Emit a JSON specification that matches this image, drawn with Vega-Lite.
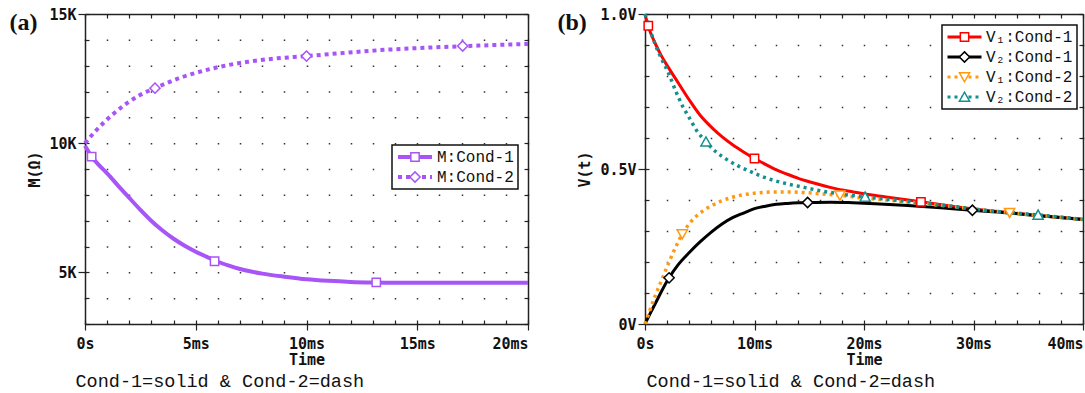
{
  "$schema": "https://vega.github.io/schema/vega-lite/v6.json",
  "padding": {"left": 9, "top": 7, "right": 2, "bottom": 1},
  "background": "white",
  "spacing": 21,
  "config": {
    "font": "DejaVu Sans Mono",
    "view": {"stroke": null},
    "axis": {
      "domainColor": "#222", "domainWidth": 1.5, "tickColor": "#222", "tickWidth": 1.2,
      "labelColor": "#111", "titleColor": "#111",
      "labelFont": "DejaVu Sans Mono", "labelFontWeight": "bold", "labelFontSize": 15,
      "titleFont": "DejaVu Sans Mono", "titleFontWeight": "bold", "titleFontSize": 15,
      "grid": false, "labelFlush": false, "labelOverlap": false
    }
  },
  "resolve": {"scale": {"color": "independent", "stroke": "independent", "shape": "independent"}},
  "datasets": {
    "aL": [
      {"s": "M:Cond-1", "c": 1, "t": 0, "v": 9.9}, {"s": "M:Cond-1", "c": 1, "t": 0.3, "v": 9.48}, {"s": "M:Cond-1", "c": 1, "t": 0.6, "v": 9.18}, {"s": "M:Cond-1", "c": 1, "t": 1, "v": 8.83}, {"s": "M:Cond-1", "c": 1, "t": 1.5, "v": 8.35}, {"s": "M:Cond-1", "c": 1, "t": 2, "v": 7.88}, {"s": "M:Cond-1", "c": 1, "t": 2.5, "v": 7.42}, {"s": "M:Cond-1", "c": 1, "t": 3, "v": 6.99}, {"s": "M:Cond-1", "c": 1, "t": 3.5, "v": 6.62}, {"s": "M:Cond-1", "c": 1, "t": 4, "v": 6.3}, {"s": "M:Cond-1", "c": 1, "t": 4.5, "v": 6.03}, {"s": "M:Cond-1", "c": 1, "t": 5, "v": 5.8}, {"s": "M:Cond-1", "c": 1, "t": 5.5, "v": 5.6}, {"s": "M:Cond-1", "c": 1, "t": 6, "v": 5.41}, {"s": "M:Cond-1", "c": 1, "t": 6.5, "v": 5.26}, {"s": "M:Cond-1", "c": 1, "t": 7, "v": 5.13}, {"s": "M:Cond-1", "c": 1, "t": 7.5, "v": 5.03}, {"s": "M:Cond-1", "c": 1, "t": 8, "v": 4.95}, {"s": "M:Cond-1", "c": 1, "t": 9, "v": 4.83}, {"s": "M:Cond-1", "c": 1, "t": 10, "v": 4.73}, {"s": "M:Cond-1", "c": 1, "t": 11, "v": 4.67}, {"s": "M:Cond-1", "c": 1, "t": 12, "v": 4.63}, {"s": "M:Cond-1", "c": 1, "t": 13, "v": 4.61}, {"s": "M:Cond-1", "c": 1, "t": 14, "v": 4.6}, {"s": "M:Cond-1", "c": 1, "t": 17, "v": 4.6}, {"s": "M:Cond-1", "c": 1, "t": 20, "v": 4.6},
      {"s": "M:Cond-2", "c": 2, "t": 0, "v": 10.0}, {"s": "M:Cond-2", "c": 2, "t": 0.4, "v": 10.4}, {"s": "M:Cond-2", "c": 2, "t": 0.83, "v": 10.78}, {"s": "M:Cond-2", "c": 2, "t": 1.3, "v": 11.15}, {"s": "M:Cond-2", "c": 2, "t": 1.9, "v": 11.55}, {"s": "M:Cond-2", "c": 2, "t": 2.5, "v": 11.87}, {"s": "M:Cond-2", "c": 2, "t": 3.16, "v": 12.13}, {"s": "M:Cond-2", "c": 2, "t": 3.7, "v": 12.33}, {"s": "M:Cond-2", "c": 2, "t": 4.25, "v": 12.52}, {"s": "M:Cond-2", "c": 2, "t": 5, "v": 12.72}, {"s": "M:Cond-2", "c": 2, "t": 5.8, "v": 12.9}, {"s": "M:Cond-2", "c": 2, "t": 6.5, "v": 13.03}, {"s": "M:Cond-2", "c": 2, "t": 7.36, "v": 13.15}, {"s": "M:Cond-2", "c": 2, "t": 8.5, "v": 13.27}, {"s": "M:Cond-2", "c": 2, "t": 10, "v": 13.37}, {"s": "M:Cond-2", "c": 2, "t": 11.5, "v": 13.48}, {"s": "M:Cond-2", "c": 2, "t": 13.3, "v": 13.6}, {"s": "M:Cond-2", "c": 2, "t": 15, "v": 13.68}, {"s": "M:Cond-2", "c": 2, "t": 17, "v": 13.75}, {"s": "M:Cond-2", "c": 2, "t": 18.5, "v": 13.8}, {"s": "M:Cond-2", "c": 2, "t": 20, "v": 13.84}
    ],
    "aP": [
      {"s": "M:Cond-1", "t": 0.3, "v": 9.48}, {"s": "M:Cond-1", "t": 5.85, "v": 5.43}, {"s": "M:Cond-1", "t": 13.15, "v": 4.61},
      {"s": "M:Cond-2", "t": 3.16, "v": 12.13}, {"s": "M:Cond-2", "t": 10.0, "v": 13.37}, {"s": "M:Cond-2", "t": 17.05, "v": 13.76}
    ],
    "bL": [
      {"s": "V₁:Cond-1", "c": 1, "t": 0, "v": 1.0}, {"s": "V₁:Cond-1", "c": 1, "t": 0.3, "v": 0.96}, {"s": "V₁:Cond-1", "c": 1, "t": 1, "v": 0.9}, {"s": "V₁:Cond-1", "c": 1, "t": 1.5, "v": 0.865}, {"s": "V₁:Cond-1", "c": 1, "t": 2, "v": 0.835}, {"s": "V₁:Cond-1", "c": 1, "t": 3, "v": 0.78}, {"s": "V₁:Cond-1", "c": 1, "t": 4, "v": 0.725}, {"s": "V₁:Cond-1", "c": 1, "t": 5, "v": 0.675}, {"s": "V₁:Cond-1", "c": 1, "t": 6.3, "v": 0.627}, {"s": "V₁:Cond-1", "c": 1, "t": 7, "v": 0.605}, {"s": "V₁:Cond-1", "c": 1, "t": 8, "v": 0.578}, {"s": "V₁:Cond-1", "c": 1, "t": 9, "v": 0.555}, {"s": "V₁:Cond-1", "c": 1, "t": 10, "v": 0.534}, {"s": "V₁:Cond-1", "c": 1, "t": 11, "v": 0.515}, {"s": "V₁:Cond-1", "c": 1, "t": 12, "v": 0.497}, {"s": "V₁:Cond-1", "c": 1, "t": 13, "v": 0.483}, {"s": "V₁:Cond-1", "c": 1, "t": 14, "v": 0.47}, {"s": "V₁:Cond-1", "c": 1, "t": 15, "v": 0.459}, {"s": "V₁:Cond-1", "c": 1, "t": 16, "v": 0.449}, {"s": "V₁:Cond-1", "c": 1, "t": 17, "v": 0.44}, {"s": "V₁:Cond-1", "c": 1, "t": 18, "v": 0.432}, {"s": "V₁:Cond-1", "c": 1, "t": 19, "v": 0.426}, {"s": "V₁:Cond-1", "c": 1, "t": 20, "v": 0.42}, {"s": "V₁:Cond-1", "c": 1, "t": 22, "v": 0.41}, {"s": "V₁:Cond-1", "c": 1, "t": 25.2, "v": 0.394}, {"s": "V₁:Cond-1", "c": 1, "t": 28, "v": 0.38}, {"s": "V₁:Cond-1", "c": 1, "t": 30, "v": 0.371}, {"s": "V₁:Cond-1", "c": 1, "t": 33, "v": 0.36}, {"s": "V₁:Cond-1", "c": 1, "t": 36, "v": 0.35}, {"s": "V₁:Cond-1", "c": 1, "t": 40, "v": 0.338},
      {"s": "V₂:Cond-1", "c": 1, "t": 0, "v": 0}, {"s": "V₂:Cond-1", "c": 1, "t": 0.5, "v": 0.036}, {"s": "V₂:Cond-1", "c": 1, "t": 1, "v": 0.07}, {"s": "V₂:Cond-1", "c": 1, "t": 1.5, "v": 0.105}, {"s": "V₂:Cond-1", "c": 1, "t": 2.2, "v": 0.149}, {"s": "V₂:Cond-1", "c": 1, "t": 3, "v": 0.19}, {"s": "V₂:Cond-1", "c": 1, "t": 4, "v": 0.229}, {"s": "V₂:Cond-1", "c": 1, "t": 5, "v": 0.264}, {"s": "V₂:Cond-1", "c": 1, "t": 6, "v": 0.295}, {"s": "V₂:Cond-1", "c": 1, "t": 7, "v": 0.322}, {"s": "V₂:Cond-1", "c": 1, "t": 8, "v": 0.343}, {"s": "V₂:Cond-1", "c": 1, "t": 9, "v": 0.358}, {"s": "V₂:Cond-1", "c": 1, "t": 10, "v": 0.372}, {"s": "V₂:Cond-1", "c": 1, "t": 11, "v": 0.38}, {"s": "V₂:Cond-1", "c": 1, "t": 12, "v": 0.386}, {"s": "V₂:Cond-1", "c": 1, "t": 13, "v": 0.389}, {"s": "V₂:Cond-1", "c": 1, "t": 14, "v": 0.391}, {"s": "V₂:Cond-1", "c": 1, "t": 15, "v": 0.392}, {"s": "V₂:Cond-1", "c": 1, "t": 17, "v": 0.393}, {"s": "V₂:Cond-1", "c": 1, "t": 19, "v": 0.391}, {"s": "V₂:Cond-1", "c": 1, "t": 21, "v": 0.388}, {"s": "V₂:Cond-1", "c": 1, "t": 24, "v": 0.382}, {"s": "V₂:Cond-1", "c": 1, "t": 27, "v": 0.375}, {"s": "V₂:Cond-1", "c": 1, "t": 29.9, "v": 0.367}, {"s": "V₂:Cond-1", "c": 1, "t": 33, "v": 0.359}, {"s": "V₂:Cond-1", "c": 1, "t": 36, "v": 0.349}, {"s": "V₂:Cond-1", "c": 1, "t": 40, "v": 0.337},
      {"s": "V₁:Cond-2", "c": 2, "t": 0, "v": 0}, {"s": "V₁:Cond-2", "c": 2, "t": 0.45, "v": 0.045}, {"s": "V₁:Cond-2", "c": 2, "t": 0.9, "v": 0.088}, {"s": "V₁:Cond-2", "c": 2, "t": 1.5, "v": 0.14}, {"s": "V₁:Cond-2", "c": 2, "t": 2.15, "v": 0.196}, {"s": "V₁:Cond-2", "c": 2, "t": 2.8, "v": 0.248}, {"s": "V₁:Cond-2", "c": 2, "t": 3.4, "v": 0.29}, {"s": "V₁:Cond-2", "c": 2, "t": 4.2, "v": 0.33}, {"s": "V₁:Cond-2", "c": 2, "t": 5, "v": 0.357}, {"s": "V₁:Cond-2", "c": 2, "t": 6, "v": 0.38}, {"s": "V₁:Cond-2", "c": 2, "t": 7, "v": 0.397}, {"s": "V₁:Cond-2", "c": 2, "t": 8, "v": 0.409}, {"s": "V₁:Cond-2", "c": 2, "t": 9, "v": 0.417}, {"s": "V₁:Cond-2", "c": 2, "t": 10, "v": 0.422}, {"s": "V₁:Cond-2", "c": 2, "t": 11, "v": 0.425}, {"s": "V₁:Cond-2", "c": 2, "t": 12, "v": 0.426}, {"s": "V₁:Cond-2", "c": 2, "t": 13, "v": 0.426}, {"s": "V₁:Cond-2", "c": 2, "t": 14, "v": 0.425}, {"s": "V₁:Cond-2", "c": 2, "t": 15, "v": 0.423}, {"s": "V₁:Cond-2", "c": 2, "t": 16, "v": 0.42}, {"s": "V₁:Cond-2", "c": 2, "t": 17.8, "v": 0.415}, {"s": "V₁:Cond-2", "c": 2, "t": 20, "v": 0.406}, {"s": "V₁:Cond-2", "c": 2, "t": 22, "v": 0.4}, {"s": "V₁:Cond-2", "c": 2, "t": 25, "v": 0.39}, {"s": "V₁:Cond-2", "c": 2, "t": 28, "v": 0.379}, {"s": "V₁:Cond-2", "c": 2, "t": 30, "v": 0.371}, {"s": "V₁:Cond-2", "c": 2, "t": 33.3, "v": 0.359}, {"s": "V₁:Cond-2", "c": 2, "t": 36, "v": 0.35}, {"s": "V₁:Cond-2", "c": 2, "t": 40, "v": 0.337},
      {"s": "V₂:Cond-2", "c": 2, "t": 0, "v": 1.0}, {"s": "V₂:Cond-2", "c": 2, "t": 0.45, "v": 0.95}, {"s": "V₂:Cond-2", "c": 2, "t": 0.9, "v": 0.905}, {"s": "V₂:Cond-2", "c": 2, "t": 1.5, "v": 0.856}, {"s": "V₂:Cond-2", "c": 2, "t": 2.15, "v": 0.809}, {"s": "V₂:Cond-2", "c": 2, "t": 2.8, "v": 0.752}, {"s": "V₂:Cond-2", "c": 2, "t": 3.4, "v": 0.705}, {"s": "V₂:Cond-2", "c": 2, "t": 4, "v": 0.668}, {"s": "V₂:Cond-2", "c": 2, "t": 4.7, "v": 0.625}, {"s": "V₂:Cond-2", "c": 2, "t": 5.57, "v": 0.588}, {"s": "V₂:Cond-2", "c": 2, "t": 6.5, "v": 0.555}, {"s": "V₂:Cond-2", "c": 2, "t": 7.5, "v": 0.53}, {"s": "V₂:Cond-2", "c": 2, "t": 8.5, "v": 0.51}, {"s": "V₂:Cond-2", "c": 2, "t": 10, "v": 0.486}, {"s": "V₂:Cond-2", "c": 2, "t": 11, "v": 0.472}, {"s": "V₂:Cond-2", "c": 2, "t": 12, "v": 0.461}, {"s": "V₂:Cond-2", "c": 2, "t": 13, "v": 0.452}, {"s": "V₂:Cond-2", "c": 2, "t": 14.2, "v": 0.443}, {"s": "V₂:Cond-2", "c": 2, "t": 16, "v": 0.43}, {"s": "V₂:Cond-2", "c": 2, "t": 17.7, "v": 0.42}, {"s": "V₂:Cond-2", "c": 2, "t": 20.1, "v": 0.41}, {"s": "V₂:Cond-2", "c": 2, "t": 22, "v": 0.403}, {"s": "V₂:Cond-2", "c": 2, "t": 25, "v": 0.391}, {"s": "V₂:Cond-2", "c": 2, "t": 28, "v": 0.38}, {"s": "V₂:Cond-2", "c": 2, "t": 30, "v": 0.371}, {"s": "V₂:Cond-2", "c": 2, "t": 33, "v": 0.36}, {"s": "V₂:Cond-2", "c": 2, "t": 35.9, "v": 0.352}, {"s": "V₂:Cond-2", "c": 2, "t": 40, "v": 0.337}
    ],
    "bP": [
      {"s": "V₁:Cond-1", "t": 0.3, "v": 0.962}, {"s": "V₁:Cond-1", "t": 10.0, "v": 0.534}, {"s": "V₁:Cond-1", "t": 25.2, "v": 0.394},
      {"s": "V₂:Cond-1", "t": 2.2, "v": 0.149}, {"s": "V₂:Cond-1", "t": 14.85, "v": 0.392}, {"s": "V₂:Cond-1", "t": 29.9, "v": 0.367},
      {"s": "V₁:Cond-2", "t": 3.4, "v": 0.29}, {"s": "V₁:Cond-2", "t": 17.8, "v": 0.415}, {"s": "V₁:Cond-2", "t": 33.3, "v": 0.359},
      {"s": "V₂:Cond-2", "t": 5.57, "v": 0.588}, {"s": "V₂:Cond-2", "t": 20.1, "v": 0.41}, {"s": "V₂:Cond-2", "t": 35.9, "v": 0.352}
    ]
  },
  "hconcat": [
    {
      "width": 443,
      "height": 310,
      "resolve": {"axis": {"x": "independent", "y": "independent"}},
      "layer": [
        {
          "data": {"name": "aL"},
          "transform": [{"filter": "datum.c == 1"}],
          "mark": {"type": "line", "strokeWidth": 4, "interpolate": "monotone"},
          "encoding": {
            "x": {"field": "t", "type": "quantitative", "scale": {"domain": [0, 20], "nice": false, "zero": false},
              "axis": {"orient": "bottom", "values": [0, 5, 10, 15, 20], "tickSize": 6, "labelPadding": 6,
                "labelExpr": "datum.value == 0 ? '0s' : datum.value + 'ms'",
                "labelAlign": {"condition": {"test": "datum.value == 20", "value": "right"}, "value": "center"},
                "title": "Time", "titleY": 35, "titleBaseline": "middle", "domain": true}},
            "y": {"field": "v", "type": "quantitative", "scale": {"domain": [3, 15], "nice": false, "zero": false},
              "axis": {"orient": "left", "values": [5, 10, 15], "tickSize": 7, "labelPadding": 2,
                "labelExpr": "datum.value + 'K'", "labelBaseline": "middle",
                "title": "M(Ω)", "titlePadding": 6, "domain": true}},
            "color": {"field": "s", "type": "nominal",
              "scale": {"domain": ["M:Cond-1", "M:Cond-2"], "range": ["#a855f7", "#a855f7"]},
              "legend": {"orient": "none", "legendX": 307, "legendY": 131, "title": null, "symbolType": "stroke",
                "symbolSize": 1156, "symbolStrokeWidth": 4, "clipHeight": 16, "rowPadding": 4, "padding": 4,
                "labelOffset": 3, "labelFont": "Liberation Mono", "labelFontSize": 16, "labelColor": "#111",
                "strokeColor": "#111", "fillColor": "white",
                "encode": {"symbols": {"update": {"strokeDash": {"signal": "indexof(datum.value, 'Cond-2') >= 0 ? [4, 4] : []"}}},
                           "legend": {"update": {"strokeWidth": {"value": 1.5}}}}}}
          }
        },
        {
          "data": {"name": "aL"},
          "transform": [{"filter": "datum.c == 2"}],
          "mark": {"type": "line", "strokeWidth": 4, "strokeDash": [4, 4], "interpolate": "monotone"},
          "encoding": {
            "x": {"field": "t", "type": "quantitative",
              "axis": {"orient": "top", "values": [0,1,2,3,4,5,6,7,8,9,10,11,12,13,14,15,16,17,18,19,20], "tickSize": -4,
                "labels": false, "domain": true, "title": "(a)", "titleX": -76, "titleY": 8, "titleAlign": "left",
                "titleBaseline": "middle", "titleAngle": 0, "titleFont": "Liberation Serif", "titleFontSize": 24, "titleFontWeight": "bold"}},
            "y": {"field": "v", "type": "quantitative",
              "axis": {"orient": "right", "values": [3,4,5,6,7,8,9,10,11,12,13,14,15], "tickSize": -4, "labels": false, "domain": true, "title": null}},
            "color": {"field": "s", "type": "nominal"}
          }
        },
        {
          "data": {"name": "aP"},
          "mark": {"type": "point", "filled": false, "fill": "white", "size": 1156, "strokeWidth": 1.5, "opacity": 1},
          "encoding": {
            "x": {"field": "t", "type": "quantitative",
              "axis": {"orient": "bottom", "values": [0,1,2,3,4,5,6,7,8,9,10,11,12,13,14,15,16,17,18,19,20], "tickSize": -4,
                "labels": false, "domain": false, "grid": true, "gridDash": [1.5, 24.3333], "gridDashOffset": 0.75,
                "gridColor": "#333", "gridWidth": 1.5,
                "title": "Cond-1=solid & Cond-2=dash", "titleX": -10, "titleY": 56, "titleAlign": "left", "titleBaseline": "middle",
                "titleFont": "Liberation Mono", "titleFontWeight": "normal", "titleFontSize": 18.5}},
            "y": {"field": "v", "type": "quantitative",
              "axis": {"orient": "left", "values": [3,4,5,6,7,8,9,10,11,12,13,14,15], "tickSize": -4, "labels": false, "domain": false, "title": null}},
            "stroke": {"field": "s", "type": "nominal", "sort": null, "scale": {"range": ["#a855f7", "#a855f7"]},
              "legend": {"orient": "none", "legendX": 307, "legendY": 131, "title": null, "symbolSize": 1156,
                "symbolStrokeWidth": 1.5, "symbolOffset": 1, "clipHeight": 16, "rowPadding": 4, "padding": 4, "labelOffset": 3,
                "labelFont": "Liberation Mono", "labelFontSize": 16, "labelOpacity": 0,
                "encode": {"symbols": {"update": {"fill": {"value": "white"}}}}}},
            "shape": {"field": "s", "type": "nominal", "sort": null,
              "scale": {"range": ["M-1,0M1,0M-0.245,-0.245H0.245V0.245H-0.245Z", "M-1,0M1,0M0,-0.3L0.3,0L0,0.3L-0.3,0Z"]},
              "legend": {"orient": "none", "legendX": 307, "legendY": 131, "title": null, "symbolSize": 1156,
                "symbolStrokeWidth": 1.5, "symbolOffset": 1, "clipHeight": 16, "rowPadding": 4, "padding": 4, "labelOffset": 3,
                "labelFont": "Liberation Mono", "labelFontSize": 16, "labelOpacity": 0,
                "encode": {"symbols": {"update": {"fill": {"value": "white"}}}}}}
          }
        }
      ]
    },
    {
      "width": 438,
      "height": 310,
      "resolve": {"axis": {"x": "independent", "y": "independent"}},
      "layer": [
        {
          "data": {"name": "bL"},
          "transform": [{"filter": "datum.c == 1"}],
          "mark": {"type": "line", "strokeWidth": 3, "interpolate": "monotone"},
          "encoding": {
            "x": {"field": "t", "type": "quantitative", "scale": {"domain": [0, 40], "nice": false, "zero": false},
              "axis": {"orient": "bottom", "values": [0, 10, 20, 30, 40], "tickSize": 6, "labelPadding": 6,
                "labelExpr": "datum.value == 0 ? '0s' : datum.value + 'ms'",
                "labelAlign": {"condition": {"test": "datum.value == 40", "value": "right"}, "value": "center"},
                "title": "Time", "titleY": 35, "titleBaseline": "middle", "domain": true}},
            "y": {"field": "v", "type": "quantitative", "scale": {"domain": [0, 1], "nice": false, "zero": false},
              "axis": {"orient": "left", "values": [0, 0.5, 1], "tickSize": 7, "labelPadding": 2,
                "labelExpr": "datum.value == 0 ? '0V' : format(datum.value, '.1f') + 'V'", "labelBaseline": "middle",
                "title": "V(t)", "titlePadding": 7, "domain": true}},
            "color": {"field": "s", "type": "nominal",
              "scale": {"domain": ["V₁:Cond-1", "V₂:Cond-1", "V₁:Cond-2", "V₂:Cond-2"], "range": ["#ff0000", "#000000", "#ff9a10", "#138f8f"]},
              "legend": {"orient": "none", "legendX": 297, "legendY": 11, "title": null, "symbolType": "stroke",
                "symbolSize": 1156, "symbolStrokeWidth": 3, "clipHeight": 16, "rowPadding": 4, "padding": 4,
                "labelOffset": 3, "labelFont": "Liberation Mono", "labelFontSize": 16, "labelColor": "#111",
                "strokeColor": "#111", "fillColor": "white",
                "encode": {"symbols": {"update": {"strokeDash": {"signal": "indexof(datum.value, 'Cond-2') >= 0 ? [3, 4] : []"}}},
                           "legend": {"update": {"strokeWidth": {"value": 1.5}}}}}}
          }
        },
        {
          "data": {"name": "bL"},
          "transform": [{"filter": "datum.c == 2"}],
          "mark": {"type": "line", "strokeWidth": 3.5, "strokeDash": [3, 4], "interpolate": "monotone"},
          "encoding": {
            "x": {"field": "t", "type": "quantitative",
              "axis": {"orient": "top", "values": [0,2,4,6,8,10,12,14,16,18,20,22,24,26,28,30,32,34,36,38,40], "tickSize": -4,
                "labels": false, "domain": true, "title": "(b)", "titleX": -88, "titleY": 8, "titleAlign": "left",
                "titleBaseline": "middle", "titleAngle": 0, "titleFont": "Liberation Serif", "titleFontSize": 24, "titleFontWeight": "bold"}},
            "y": {"field": "v", "type": "quantitative",
              "axis": {"orient": "right", "values": [0,0.1,0.2,0.3,0.4,0.5,0.6,0.7,0.8,0.9,1], "tickSize": -4, "labels": false, "domain": true, "title": null}},
            "color": {"field": "s", "type": "nominal"}
          }
        },
        {
          "data": {"name": "bP"},
          "mark": {"type": "point", "filled": false, "fill": "white", "size": 1156, "strokeWidth": 1.5, "opacity": 1},
          "encoding": {
            "x": {"field": "t", "type": "quantitative",
              "axis": {"orient": "bottom", "values": [0,2,4,6,8,10,12,14,16,18,20,22,24,26,28,30,32,34,36,38,40], "tickSize": -4,
                "labels": false, "domain": false, "grid": true, "gridDash": [1.5, 29.5], "gridDashOffset": 0.75,
                "gridColor": "#333", "gridWidth": 1.5,
                "title": "Cond-1=solid & Cond-2=dash", "titleX": 1, "titleY": 56, "titleAlign": "left", "titleBaseline": "middle",
                "titleFont": "Liberation Mono", "titleFontWeight": "normal", "titleFontSize": 18.5}},
            "y": {"field": "v", "type": "quantitative",
              "axis": {"orient": "left", "values": [0,0.1,0.2,0.3,0.4,0.5,0.6,0.7,0.8,0.9,1], "tickSize": -4, "labels": false, "domain": false, "title": null}},
            "stroke": {"field": "s", "type": "nominal", "sort": null, "scale": {"range": ["#ff0000", "#000000", "#ff9a10", "#138f8f"]},
              "legend": {"orient": "none", "legendX": 297, "legendY": 11, "title": null, "symbolSize": 1156,
                "symbolStrokeWidth": 1.5, "symbolOffset": 0.5, "clipHeight": 16, "rowPadding": 4, "padding": 4, "labelOffset": 3,
                "labelFont": "Liberation Mono", "labelFontSize": 16, "labelOpacity": 0,
                "encode": {"symbols": {"update": {"fill": {"value": "white"}}}}}},
            "shape": {"field": "s", "type": "nominal", "sort": null,
              "scale": {"range": ["M-1,0M1,0M-0.245,-0.245H0.245V0.245H-0.245Z", "M-1,0M1,0M0,-0.3L0.3,0L0,0.3L-0.3,0Z", "M-1,0M1,0M-0.3,-0.25H0.3L0,0.28Z", "M-1,0M1,0M-0.3,0.25H0.3L0,-0.28Z"]},
              "legend": {"orient": "none", "legendX": 297, "legendY": 11, "title": null, "symbolSize": 1156,
                "symbolStrokeWidth": 1.5, "symbolOffset": 0.5, "clipHeight": 16, "rowPadding": 4, "padding": 4, "labelOffset": 3,
                "labelFont": "Liberation Mono", "labelFontSize": 16, "labelOpacity": 0,
                "encode": {"symbols": {"update": {"fill": {"value": "white"}}}}}}
          }
        }
      ]
    }
  ]
}
